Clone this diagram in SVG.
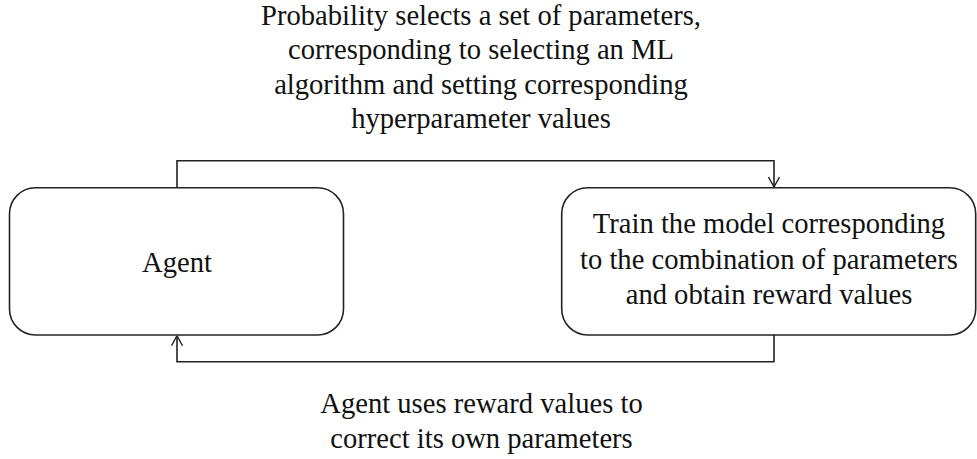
<svg xmlns="http://www.w3.org/2000/svg" width="977" height="459" viewBox="0 0 977 459">
<style>
.box{fill:#fff;stroke:#222;stroke-width:1.6}
.ln{fill:none;stroke:#222;stroke-width:1.6}
text{font-family:"Liberation Serif","Times New Roman",serif;font-size:28.6px;fill:#111;text-anchor:middle}
</style>
<defs>
<marker id="arr" viewBox="0 0 10 12" refX="10" refY="6" markerWidth="10" markerHeight="12" markerUnits="userSpaceOnUse" orient="auto">
<path d="M0,0.5 L10,6 L0,11.5" fill="none" stroke="#222" stroke-width="1.4"/>
</marker>
</defs>
<g id="connectors">
<path class="ln" d="M177,187.7 V160.7 H774 V187" marker-end="url(#arr)"/>
<path class="ln" d="M774,335 V361.7 H177 V335.7" marker-end="url(#arr)"/>
</g>
<g id="label-top">
<text x="481" y="25">Probability selects a set of parameters,</text>
<text x="481" y="59">corresponding to selecting an ML</text>
<text x="481" y="93.5">algorithm and setting corresponding</text>
<text x="481" y="128">hyperparameter values</text>
</g>
<g id="agent">
<rect class="box" x="9.5" y="187.7" width="334" height="147.3" rx="26" ry="26"/>
<text x="177" y="271.5">Agent</text>
</g>
<g id="train">
<rect class="box" x="561.7" y="187.7" width="414" height="147.3" rx="26" ry="26"/>
<text x="769" y="233">Train the model corresponding</text>
<text x="769" y="268.5">to the combination of parameters</text>
<text x="769" y="304">and obtain reward values</text>
</g>
<g id="label-bottom">
<text x="481.5" y="413">Agent uses reward values to</text>
<text x="481.5" y="448">correct its own parameters</text>
</g>
</svg>
